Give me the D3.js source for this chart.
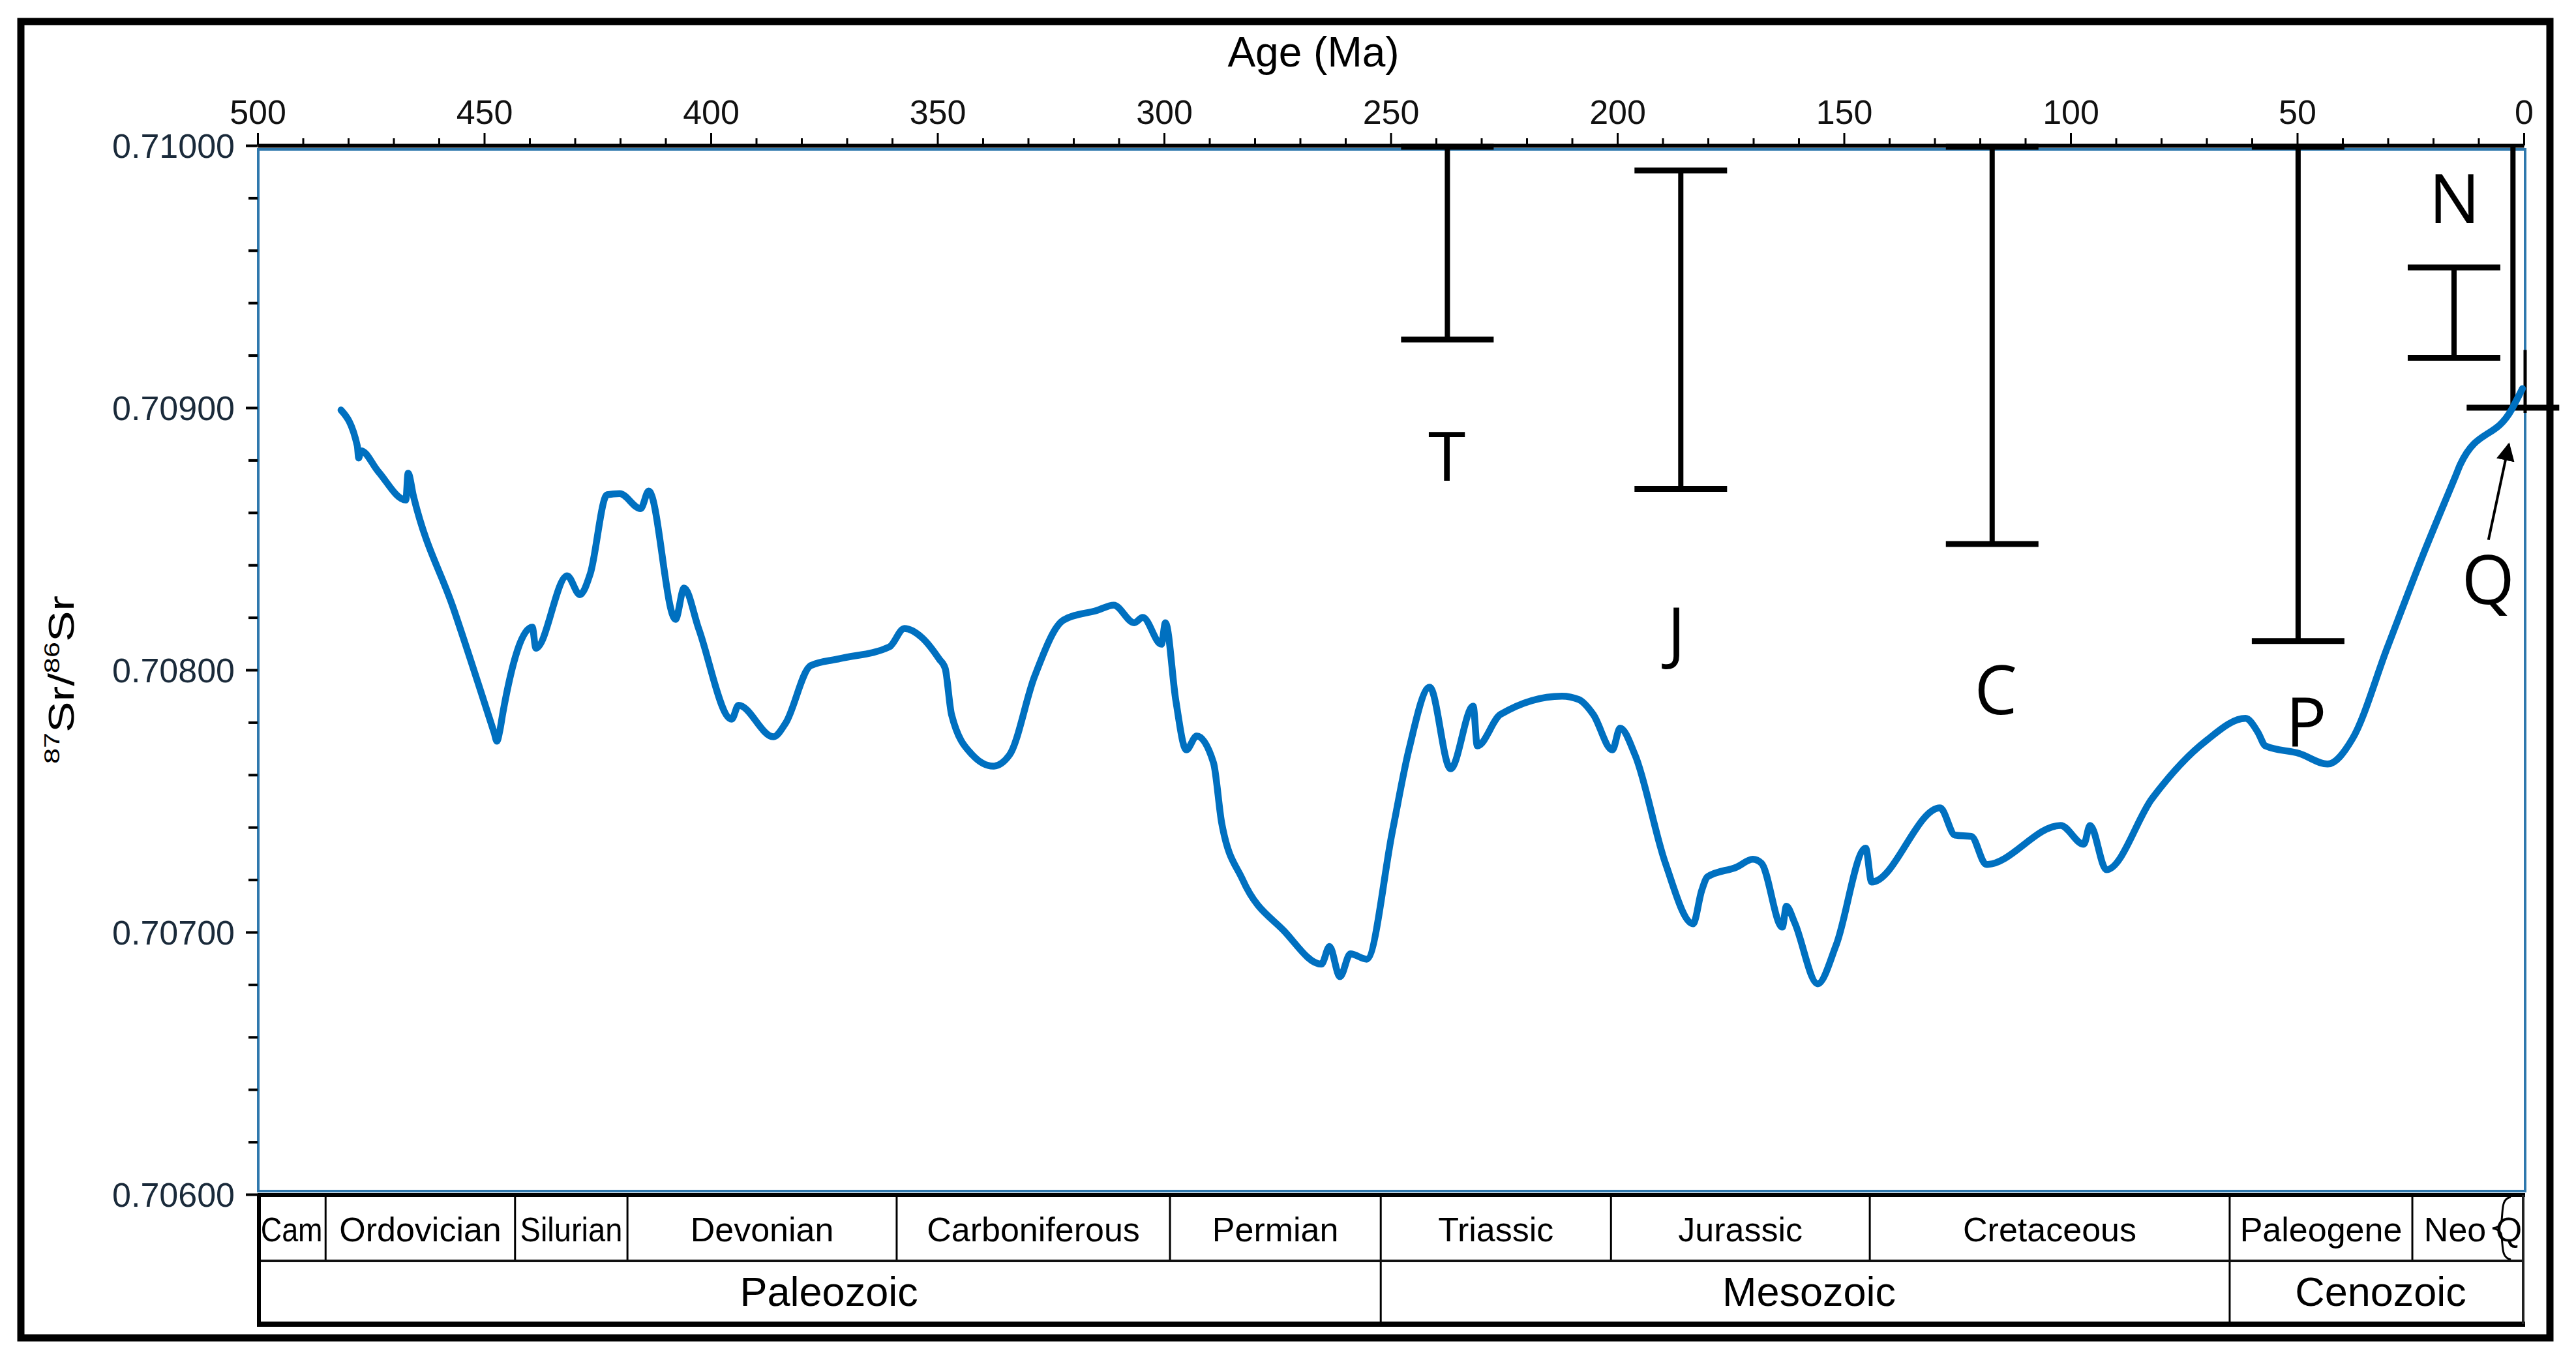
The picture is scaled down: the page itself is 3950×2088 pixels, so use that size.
<!DOCTYPE html>
<html><head><meta charset="utf-8">
<script src="https://cdn.jsdelivr.net/npm/d3@7"></script>
<style>
html,body{margin:0;padding:0;background:#fff;}
svg{display:block;font-family:"Liberation Sans",Arial,sans-serif;}
</style></head><body>
<svg id="chart" width="3950" height="2088"></svg>
<script>
// ---- data ----
const ages = [481.6,478.0,477.7,477.2,473.4,467.3,466.8,465.6,456.8,447.8,447.2,446.6,445.9,439.4,438.6,431.7,428.9,426.6,422.9,420.1,415.5,413.7,407.8,405.9,402.7,
  395.4,393.9,386.2,383.5,378.0,371.5,360.6,357.3,353.4,349.6,348.3,346.9,342.3,337.7,334.1,328.6,322.2,314.8,311.1,306.6,
  304.7,300.6,299.7,297.4,295.1,292.8,289.1,287.3,282.7,273.5,265.3,263.5,261.2,258.9,255.3,249.6,246.0,241.4,236.8,231.8,
  230.9,225.8,212.2,208.5,205.3,201.1,199.4,196.1,189.4,183.3,181.4,180.1,173.7,170.1,168.2,163.6,162.7,160.9,155.8,151.7,
  145.2,143.9,128.8,125.5,121.9,118.6,102.2,97.1,95.7,92.1,82.0,70.1,61.4,58.7,57.0,49.5,43.3,37.8,30.1,22.3,15.0,14.0,2.7,0.3];
const srRatios = [0.708991,0.708854,0.708808,0.708836,0.708757,0.708648,0.708750,0.708662,0.708235,0.707760,0.707728,0.707765,0.707835,0.708163,0.708083,0.708359,0.708287,0.708367,0.708668,0.708672,0.708615,0.708682,0.708193,0.708312,0.708158,
  0.707812,0.707865,0.707745,0.707797,0.708016,0.708043,0.708088,0.708158,0.708123,0.708041,0.708006,0.707830,0.707676,0.707633,0.707676,0.707974,0.708190,0.708227,0.708247,0.708180,
  0.708200,0.708098,0.708180,0.707882,0.707695,0.707748,0.707646,0.707417,0.707201,0.707004,0.706878,0.706945,0.706830,0.706917,0.706897,0.707387,0.707695,0.707934,0.707623,0.707862,
  0.707710,0.707830,0.707900,0.707887,0.707830,0.707695,0.707778,0.707676,0.707263,0.707032,0.707158,0.707211,0.707248,0.707278,0.707263,0.707019,0.707099,0.707037,0.706803,0.706952,
  0.707320,0.707191,0.707474,0.707370,0.707365,0.707258,0.707407,0.707335,0.707407,0.707238,0.707510,0.707730,0.707815,0.707763,0.707710,0.707681,0.707641,0.707738,0.708086,0.708436,0.708742,0.708784,0.708993,0.709073];

const xMajorTicks = [500,450,400,350,300,250,200,150,100,50,0];
const yMajorTicks = [0.706,0.707,0.708,0.709,0.710];
const yTickLabels = ["0.70600","0.70700","0.70800","0.70900","0.71000"];

const periodNames  = ["Cam","Ordovician","Silurian","Devonian","Carboniferous","Permian","Triassic","Jurassic","Cretaceous","Paleogene","Neo","Q"];
const periodStarts = [500,485,443.2,418.4,359,298.7,252.2,201.4,144.3,64.9,24.6,2.58];
const periodEnds   = [485,443.2,418.4,359,298.7,252.2,201.4,144.3,64.9,24.6,2.58,0];

const eraNames  = ["Paleozoic","Mesozoic","Cenozoic"];
const eraStarts = [500,252.2,64.9];
const eraEnds   = [252.2,64.9,0];

const rangeNames  = ["T","J","C","P","N","Q"];
const rangeAges   = [237.5,186.0,117.3,49.8,15.4,2.4];
const rangeHigh   = [0.7100,0.70991,0.7100,0.7100,0.70954,0.7100];
const rangeLow    = [0.70926,0.70869,0.70848,0.70811,0.70919,0.70900];
const rangeTopCap = [true,true,true,true,true,false];
const labelAges   = [237.6,187.0,116.5,48.0,15.3,7.9];
const labelValues = [0.708722,0.708053,0.707830,0.707710,0.709704,0.708252];
const arrowFrom = [7.8,0.708496];
const arrowTo   = [3.3,0.708861];
const qEdge = [0.70922,0.70898];

// ---- scales ----
const svg = d3.select("#chart");
const x = d3.scaleLinear().domain([500,0]).range([395,3870]);
const y = d3.scaleLinear().domain([0.706,0.710]).range([1831,223]);
const tableTop = 1832, periodBottom = 1933, eraBottom = 2030;

// outer frame
svg.append("rect").attr("x",32).attr("y",33).attr("width",3878).attr("height",2018)
  .attr("fill","none").attr("stroke","#000").attr("stroke-width",11);

// plot frame (blue)
svg.append("rect").attr("x",396).attr("y",229).attr("width",3476).attr("height",1597)
  .attr("fill","none").attr("stroke","#2f78ad").attr("stroke-width",4);

// top axis
const minorX = d3.range(500,-1,-10);
const gx = svg.append("g").attr("transform",`translate(0,${y(0.710)})`)
  .call(d3.axisTop(x).tickValues(minorX).tickSize(11).tickSizeOuter(0)
    .tickFormat(d => xMajorTicks.includes(d) ? String(d) : ""));
gx.select(".domain").attr("stroke","#000").attr("stroke-width",6);
gx.selectAll(".tick line").attr("stroke","#000").attr("stroke-width",3)
  .attr("y2", d => xMajorTicks.includes(d) ? -19 : -11);
gx.selectAll(".tick text").attr("y",-33).attr("dy","0").style("font-size","52px").attr("fill","#111")
  .style("font-family","'Liberation Sans',Arial,sans-serif");

// left axis
const minorY = d3.range(0,21).map(i => +(0.706 + i*0.0002).toFixed(5));
const gy = svg.append("g").attr("transform",`translate(395,0)`)
  .call(d3.axisLeft(y).tickValues(minorY).tickSize(15).tickSizeOuter(0)
    .tickFormat(d => { const k = yMajorTicks.findIndex(v => Math.abs(v-d)<1e-7); return k>=0 ? yTickLabels[k] : ""; }));
gy.select(".domain").attr("stroke","none");
gy.selectAll(".tick line").attr("stroke","#000").attr("stroke-width",4)
  .attr("x2", d => yMajorTicks.some(v => Math.abs(v-d)<1e-7) ? -18 : -14);
gy.selectAll(".tick text").attr("x",-35).attr("dy","0.36em").style("font-size","52px").attr("fill","#1a2a3a")
  .style("font-family","'Liberation Sans',Arial,sans-serif");

// axis titles
svg.append("text").attr("x",2014).attr("y",102).attr("text-anchor","middle")
  .style("font-size","64px").attr("fill","#000").text("Age (Ma)");
const yt = svg.append("text").attr("transform","translate(113,1042) rotate(-90)")
  .attr("text-anchor","middle").style("font-size","56px").attr("fill","#000")
  .attr("textLength",258).attr("lengthAdjust","spacingAndGlyphs");
yt.append("tspan").attr("dy",-22).style("font-size","34px").text("87");
yt.append("tspan").attr("dy",22).text("Sr/");
yt.append("tspan").attr("dy",-22).style("font-size","34px").text("86");
yt.append("tspan").attr("dy",22).text("Sr");

// ranges (error-bar like markers)
const rg = svg.append("g").attr("stroke","#000");
rangeNames.forEach((n,i) => {
  const cx = x(rangeAges[i]);
  rg.append("line").attr("x1",cx).attr("x2",cx).attr("y1",y(rangeHigh[i])).attr("y2",y(rangeLow[i])).attr("stroke-width",8);
  rg.append("line").attr("x1",cx-71).attr("x2",cx+71).attr("y1",y(rangeLow[i])).attr("y2",y(rangeLow[i])).attr("stroke-width",9);
  if (rangeTopCap[i]) rg.append("line").attr("x1",cx-71).attr("x2",cx+71).attr("y1",y(rangeHigh[i])+2).attr("y2",y(rangeHigh[i])+2).attr("stroke-width",9);
  svg.append("text").attr("x",x(labelAges[i])).attr("y",y(labelValues[i])).attr("text-anchor","middle")
    .style("font-size","104px").style("font-family","'Open Sans','Liberation Sans',sans-serif").attr("fill","#000").text(n);
});
rg.append("line").attr("x1",x(0)+2).attr("x2",x(0)+2).attr("y1",y(qEdge[0])).attr("y2",y(qEdge[1])).attr("stroke-width",5);

// curve
const data = ages.map((a,i) => ({age:a, v:srRatios[i]}));
svg.append("path").datum(data)
  .attr("d", d3.line().x(d => x(d.age)).y(d => y(d.v)).curve(d3.curveMonotoneX))
  .attr("fill","none").attr("stroke","#0070c0").attr("stroke-width",10.5)
  .attr("stroke-linejoin","round").attr("stroke-linecap","round");

// arrow
svg.append("defs").append("marker").attr("id","ah").attr("viewBox","0 0 10 10").attr("refX",9).attr("refY",5)
  .attr("markerWidth",7).attr("markerHeight",7).attr("markerUnits","strokeWidth").attr("orient","auto")
  .append("path").attr("d","M0,0 L10,5 L0,10 Z").attr("fill","#000");
svg.append("line").attr("x1",x(arrowFrom[0])).attr("y1",y(arrowFrom[1])).attr("x2",x(arrowTo[0])).attr("y2",y(arrowTo[1]))
  .attr("stroke","#000").attr("stroke-width",4).attr("marker-end","url(#ah)");

// ---- geologic time table ----
const tb = svg.append("g");
const qx = x(periodStarts[periodStarts.length-1]);
periodNames.forEach((n,i) => {
  const x0 = x(periodStarts[i]), x1 = x(periodEnds[i]);
  if (i>0 && n !== "Q") tb.append("line").attr("x1",x0).attr("x2",x0).attr("y1",tableTop).attr("y2",periodBottom).attr("stroke","#000").attr("stroke-width",3);
  let cxp = (x0+x1)/2, w = x1-x0;
  if (n === "Neo") { cxp = (x0 + qx - 22)/2; w = qx - 22 - x0; }
  if (n === "Q") { cxp = qx - 5; w = 40; }
  const t = tb.append("text").attr("x",cxp).attr("y",1903).attr("text-anchor","middle")
    .style("font-size","52px").attr("fill","#000").text(n);
  const len = t.node().getComputedTextLength();
  if (n !== "Q" && n !== "Neo" && len > w*0.91) t.attr("textLength",w*0.91).attr("lengthAdjust","spacingAndGlyphs");
});
// curly brace for Quaternary boundary
tb.append("path").attr("d",`M${qx-2},${tableTop+3} C${qx-16},${tableTop+6} ${qx-14},${tableTop+20} ${qx-16},${tableTop+38} C${qx-17},${tableTop+48} ${qx-24},${tableTop+50} ${qx-30},${tableTop+51} C${qx-24},${tableTop+52} ${qx-17},${tableTop+54} ${qx-16},${tableTop+64} C${qx-14},${tableTop+82} ${qx-16},${tableTop+96} ${qx-2},${periodBottom-2}`)
  .attr("fill","none").attr("stroke","#000").attr("stroke-width",3);

eraNames.forEach((n,i) => {
  const x0 = x(eraStarts[i]), x1 = x(eraEnds[i]);
  if (i>0) tb.append("line").attr("x1",x0).attr("x2",x0).attr("y1",periodBottom).attr("y2",eraBottom).attr("stroke","#000").attr("stroke-width",3);
  tb.append("text").attr("x",(x0+x1)/2 + (i===0?15:6)).attr("y",2002).attr("text-anchor","middle")
    .style("font-size","63px").attr("fill","#000").text(n);
});
tb.append("line").attr("x1",395).attr("x2",3872).attr("y1",tableTop).attr("y2",tableTop).attr("stroke","#000").attr("stroke-width",6);
tb.append("line").attr("x1",397).attr("x2",3870).attr("y1",periodBottom).attr("y2",periodBottom).attr("stroke","#111").attr("stroke-width",4);
tb.append("line").attr("x1",394).attr("x2",3872).attr("y1",eraBottom).attr("y2",eraBottom).attr("stroke","#000").attr("stroke-width",8);
tb.append("line").attr("x1",397).attr("x2",397).attr("y1",tableTop).attr("y2",eraBottom+4).attr("stroke","#000").attr("stroke-width",6);
tb.append("line").attr("x1",3869).attr("x2",3869).attr("y1",tableTop).attr("y2",eraBottom).attr("stroke","#222").attr("stroke-width",4);
</script>
</body></html>
